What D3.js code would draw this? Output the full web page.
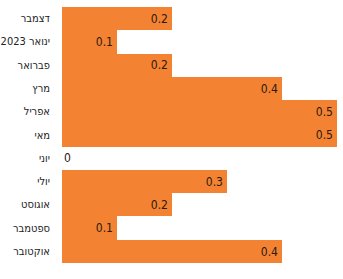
<!DOCTYPE html>
<html><head><meta charset="utf-8">
<script src="https://cdn.jsdelivr.net/npm/d3@7"></script>
<style>body{margin:0;background:#fff}svg{display:block}</style>
</head><body>
<svg id="c" width="343" height="279"></svg>
<script>
const categories = ["דצמבר","ינואר 2023","פברואר","מרץ","אפריל","מאי","יוני","יולי","אוגוסט","ספטמבר","אוקטובר"];
const values = [0.2,0.1,0.2,0.4,0.5,0.5,0,0.3,0.2,0.1,0.4];
const valueLabels = ["0.2","0.1","0.2","0.4","0.5","0.5","0","0.3","0.2","0.1","0.4"];

const svg = d3.select("#c");
const font = "'Liberation Sans Narrow','DejaVu Sans Condensed','Liberation Sans',sans-serif";
const x = d3.scaleLinear().domain([0,0.5]).range([62,337]);
const y = d3.scaleBand().domain(categories).range([7,263]).padding(0);
const barTop = d => Math.round(y(d));
const barBot = d => Math.round(y(d)+y.bandwidth());

svg.selectAll("rect.bar").data(categories).join("rect")
  .attr("class","bar")
  .attr("x", x(0))
  .attr("y", d=>barTop(d))
  .attr("width", (d,i)=>Math.round(x(values[i])-x(0)))
  .attr("height", d=>barBot(d)-barTop(d))
  .attr("fill","#F38332")
  .attr("shape-rendering","crispEdges");

const yAxis = d3.axisLeft(y).tickSize(0).tickPadding(0);
const g = svg.append("g").attr("transform","translate(50,0)").call(yAxis);
g.select(".domain").remove();
g.selectAll("text").attr("font-family",font).attr("font-size",11).attr("fill","#222");

svg.selectAll("text.val").data(categories).join("text")
  .attr("class","val")
  .attr("x",(d,i)=> values[i]===0 ? x(0)+2 : x(values[i])-4)
  .attr("y", d=>y(d)+y.bandwidth()/2)
  .attr("dy","0.35em")
  .attr("text-anchor",(d,i)=> values[i]===0 ? "start":"end")
  .attr("font-family",font).attr("font-size",12)
  .attr("fill","#2a1a10")
  .text((d,i)=>valueLabels[i]);
</script>
</body></html>
